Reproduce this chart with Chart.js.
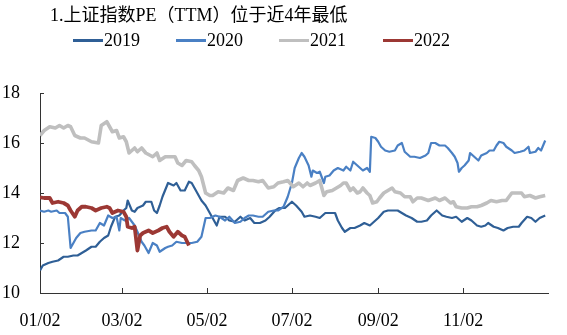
<!DOCTYPE html>
<html>
<head>
<meta charset="utf-8">
<script src="https://cdn.jsdelivr.net/npm/chart.js@4.4.0/dist/chart.umd.min.js"></script>
<style>
  html, body { margin: 0; padding: 0; background: #fff; }
  #wrap { position: relative; width: 567px; height: 335px; font-family: 'Liberation Serif', 'Noto Sans CJK SC', serif; color: #000; }
  #title { position: absolute; left: 50px; top: 5px; font-size: 18px; line-height: 20px; white-space: nowrap; }
  .lg { position: absolute; top: 30px; font-size: 18px; line-height: 20px; display: flex; align-items: center; white-space: nowrap; }
  .lg i { display: inline-block; width: 30px; height: 3px; margin-right: 1px; }
  canvas { position: absolute; left: 0; top: 0; }
</style>
</head>
<body>
<div id="wrap">
  <canvas id="chart" width="567" height="335"></canvas>
  <div id="title">1.上证指数PE（TTM）位于近4年最低</div>
  <div id="legend"></div>
</div>
<script>
// x = calendar day offset from 01/02
const tickDays = [0, 59, 120, 181, 243, 304];
const tickLabels = ['01/02', '03/02', '05/02', '07/02', '09/02', '11/02'];

const days2019 = [0,2,6,9,13,17,20,24,27,30,33,37,40,43,46,49,51,54,57,60,62,63,66,68,70,74,76,80,82,84,86,88,92,96,98,101,104,107,109,111,114,116,119,121,124,127,129,133,136,140,144,147,151,154,158,162,165,169,172,176,178,181,184,188,190,194,198,201,205,208,212,214,217,219,223,226,230,233,237,239,243,247,250,254,257,260,263,267,271,274,278,281,285,289,292,296,299,303,307,310,314,317,320,322,326,329,333,336,340,344,346,350,353,356,359,363];
const pe2019 = [10.9,11.1,11.2,11.25,11.3,11.45,11.45,11.5,11.5,11.6,11.7,11.85,11.85,12.05,12.2,12.3,12.65,13.05,13.1,13.3,13.4,13.7,13.3,13.25,13.4,13.5,13.65,13.65,13.3,13.2,13.5,13.85,14.4,14.3,14.4,14.1,14.1,14.45,14.4,14.2,13.9,13.7,13.5,13.3,13.0,12.7,13.05,13.05,12.9,12.85,13.05,12.9,13.0,12.8,12.8,12.9,13.05,13.3,13.4,13.4,13.5,13.65,13.5,13.25,13.05,13.1,13.05,13.0,13.2,13.2,13.2,12.9,12.6,12.45,12.6,12.6,12.7,12.8,12.7,12.8,13.0,13.25,13.3,13.3,13.3,13.2,13.1,13.0,12.85,12.85,12.9,13.1,13.3,13.1,13.05,13.0,13.05,12.85,13.0,12.9,12.7,12.65,12.7,12.8,12.65,12.6,12.5,12.6,12.65,12.65,12.8,13.05,13.0,12.85,13.0,13.1];

const days2020 = [0,3,6,8,12,14,18,20,22,24,26,29,32,37,40,43,46,49,52,55,57,58,61,64,68,70,73,75,78,81,84,86,90,92,95,98,102,105,109,113,116,119,122,126,129,133,136,140,144,147,150,153,157,160,164,168,171,175,178,181,183,186,188,190,193,195,196,199,201,204,205,208,211,214,218,220,223,225,228,230,232,235,237,238,241,243,245,248,251,255,257,260,262,266,269,273,277,279,281,284,287,291,293,296,298,300,301,303,305,308,309,312,315,317,321,323,326,328,330,333,335,339,341,345,348,351,352,356,358,360,363];
const pe2020 = [13.3,13.25,13.3,13.25,13.3,13.2,13.2,13.05,11.8,12.0,12.2,12.4,12.45,12.5,12.5,12.8,12.7,13.1,13.0,13.05,12.5,13.0,12.9,13.0,12.7,12.45,12.05,11.9,11.6,12.0,11.9,11.65,11.8,11.85,11.9,12.05,12.0,12.0,12.0,12.05,12.25,13.0,13.0,13.1,13.05,12.9,13.05,12.8,12.85,13.0,13.1,13.1,13.05,13.05,13.25,13.3,13.3,13.45,13.85,14.4,15.0,15.4,15.6,15.45,15.1,14.65,14.9,14.8,14.85,14.4,14.65,14.7,14.9,15.0,14.9,15.05,14.9,15.25,15.1,15.0,14.9,15.0,14.85,16.25,16.2,16.05,15.85,15.7,15.65,15.7,15.9,16.0,15.65,15.45,15.45,15.4,15.5,15.6,16.0,16.0,15.9,15.9,15.8,15.6,15.45,15.2,14.85,15.0,15.1,15.3,15.6,15.45,15.3,15.5,15.6,15.7,15.7,15.9,16.05,16.0,15.85,15.7,15.6,15.65,15.7,15.85,15.6,15.65,15.8,15.7,16.1];

const days2021 = [0,3,7,11,14,17,20,22,25,29,32,37,42,44,48,50,52,55,57,60,62,64,68,70,73,76,81,84,86,90,93,97,99,102,105,109,111,114,116,119,122,124,128,132,135,139,142,146,150,153,157,160,164,168,171,175,178,182,186,189,192,194,198,201,204,206,210,213,216,218,220,223,225,228,230,232,235,237,239,242,244,247,250,253,255,259,262,266,268,271,274,279,284,287,291,295,297,299,303,307,310,314,317,321,324,328,332,335,339,342,346,348,352,356,359,363];
const pe2021 = [16.3,16.5,16.65,16.6,16.7,16.6,16.7,16.65,16.3,16.2,16.2,16.05,16.0,16.7,16.85,16.65,16.45,16.5,16.2,16.25,16.05,15.6,15.8,15.65,15.8,15.6,15.45,15.6,15.3,15.45,15.45,15.45,15.2,15.1,15.3,15.25,15.1,14.9,14.65,14.0,13.9,13.9,14.05,14.0,14.2,14.1,14.5,14.6,14.5,14.5,14.45,14.5,14.2,14.25,14.4,14.45,14.5,14.25,14.4,14.25,14.4,14.3,14.4,14.5,13.9,14.05,14.1,14.2,14.3,14.4,14.4,14.1,14.2,14.0,14.05,14.2,14.0,13.9,13.6,13.65,13.8,14.0,14.1,14.2,14.05,14.0,13.85,13.85,13.65,13.8,13.8,13.7,13.8,13.7,13.8,13.6,13.65,13.45,13.4,13.4,13.45,13.45,13.5,13.6,13.7,13.65,13.7,13.7,14.0,14.0,14.0,13.85,13.9,13.8,13.85,13.9];

const days2022 = [0,3,7,9,13,17,20,22,25,27,30,33,37,40,44,48,50,52,56,60,62,63,66,68,70,72,74,78,81,85,88,91,93,96,99,102,104,107];
const pe2022 = [13.83,13.8,13.8,13.6,13.65,13.6,13.5,13.3,13.05,13.3,13.45,13.45,13.4,13.3,13.4,13.45,13.4,13.2,13.3,13.25,13.05,12.65,12.6,12.65,11.7,12.3,12.4,12.5,12.4,12.5,12.6,12.65,12.45,12.25,12.45,12.3,12.25,11.9];

const seriesNames = ['2019', '2020', '2021', '2022'];
const seriesColors = ['#2f5f96', '#4a80c4', '#bfbfbf', '#9c3834'];
const seriesWidths = [2.2, 2.2, 3.6, 3.8];

const axisColor = '#333';
const fontFamily = "'Liberation Serif', 'Times New Roman', serif";

function pts(days, vals) {
  return days.map((d, i) => ({ x: d, y: vals[i] }));
}
const allData = [pts(days2019, pe2019), pts(days2020, pe2020), pts(days2021, pe2021), pts(days2022, pe2022)];

// html legend
const legendX = [73, 176, 279, 383];
document.getElementById('legend').innerHTML = seriesNames.map((n, i) =>
  `<div class="lg" style="left:${legendX[i]}px"><i style="background:${seriesColors[i]}"></i>${n}</div>`
).join('');

// ticks pointing into the plot
const innerTicks = {
  id: 'innerTicks',
  afterDraw(chart) {
    const { ctx, chartArea: a, scales: { x, y } } = chart;
    ctx.save();
    ctx.strokeStyle = axisColor;
    ctx.lineWidth = 1;
    ctx.beginPath();
    x.ticks.forEach(t => {
      if (t.value === 0) return;
      const px = Math.round(x.getPixelForValue(t.value)) + 0.5;
      ctx.moveTo(px, a.bottom);
      ctx.lineTo(px, a.bottom - 5);
    });
    y.ticks.forEach(t => {
      const py = Math.round(y.getPixelForValue(t.value)) + 0.5;
      ctx.moveTo(a.left, py);
      ctx.lineTo(a.left + 4, py);
    });
    ctx.stroke();
    ctx.restore();
  }
};

new Chart(document.getElementById('chart'), {
  type: 'line',
  data: {
    datasets: allData.map((d, i) => ({
      label: seriesNames[i],
      data: d,
      borderColor: seriesColors[i],
      backgroundColor: seriesColors[i],
      borderWidth: seriesWidths[i],
      pointRadius: 0,
      tension: 0,
      borderJoinStyle: 'round',
      order: 3 - i, // later years on top
    })),
  },
  options: {
    responsive: false,
    animation: false,
    events: [],
    layout: { padding: { top: 93, right: 19, bottom: 0, left: 2 } },
    scales: {
      x: {
        type: 'linear',
        min: 0,
        max: 365,
        afterBuildTicks: (s) => { s.ticks = tickDays.map(v => ({ value: v })); },
        afterFit: (s) => { s.height = 42; },
        grid: { display: false, drawTicks: false },
        border: { display: true, color: axisColor, width: 1 },
        ticks: {
          autoSkip: false,
          maxRotation: 0,
          padding: 17,
          color: '#000',
          font: { family: fontFamily, size: 18 },
          callback: (v) => tickLabels[tickDays.indexOf(v)] ?? '',
        },
      },
      y: {
        min: 10,
        max: 18,
        afterFit: (s) => { s.width = 38; },
        grid: { display: false, drawTicks: false },
        border: { display: true, color: axisColor, width: 1 },
        ticks: {
          stepSize: 2,
          padding: 20,
          color: '#000',
          font: { family: fontFamily, size: 18 },
        },
      },
    },
    plugins: {
      legend: { display: false },
      tooltip: { enabled: false },
      title: { display: false },
    },
  },
  plugins: [innerTicks],
});
</script>
</body>
</html>
